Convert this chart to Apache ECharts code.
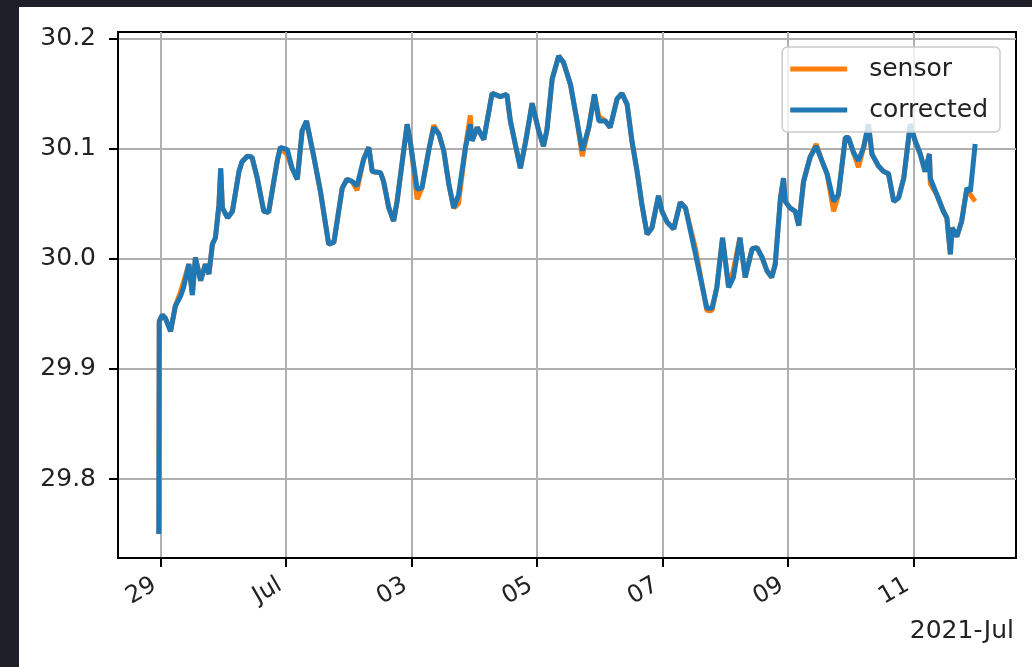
<!DOCTYPE html>
<html>
<head>
<meta charset="utf-8">
<script src="https://cdn.jsdelivr.net/npm/echarts@6/dist/echarts.min.js"></script>
<style>
  html, body { margin: 0; padding: 0; width: 1032px; height: 667px; background: #1e1f29; overflow: hidden; }
  #chart { position: absolute; left: 19px; top: 7px; width: 1013px; height: 660px; background: #ffffff; }
</style>
</head>
<body>
<div id="chart"></div>
<script>
const times = [
  '2021-06-28 23:20','2021-06-28 23:30',
  '2021-06-29 00:40','2021-06-29 01:50','2021-06-29 03:50','2021-06-29 05:40','2021-06-29 07:40','2021-06-29 08:50','2021-06-29 10:50','2021-06-29 12:10','2021-06-29 13:20','2021-06-29 15:20','2021-06-29 17:10','2021-06-29 18:30','2021-06-29 19:50','2021-06-29 21:00','2021-06-29 22:20','2021-06-29 23:00','2021-06-29 23:40',
  '2021-06-30 01:40','2021-06-30 03:30','2021-06-30 06:00','2021-06-30 07:10','2021-06-30 09:10','2021-06-30 11:00','2021-06-30 13:00','2021-06-30 15:30','2021-06-30 17:20','2021-06-30 20:40','2021-06-30 21:50',
  '2021-07-01 00:30','2021-07-01 02:20','2021-07-01 04:20','2021-07-01 06:10','2021-07-01 07:50','2021-07-01 10:40','2021-07-01 13:10','2021-07-01 16:20','2021-07-01 18:20','2021-07-01 21:30','2021-07-01 23:20',
  '2021-07-02 01:20','2021-07-02 03:10','2021-07-02 05:40','2021-07-02 07:40','2021-07-02 09:00','2021-07-02 12:10','2021-07-02 13:20','2021-07-02 15:20','2021-07-02 17:10','2021-07-02 18:30','2021-07-02 22:20','2021-07-02 23:40',
  '2021-07-03 02:10','2021-07-03 04:00','2021-07-03 06:40','2021-07-03 08:30','2021-07-03 10:30','2021-07-03 12:20','2021-07-03 14:20','2021-07-03 16:10','2021-07-03 18:00','2021-07-03 20:40','2021-07-03 22:30','2021-07-03 23:10',
  '2021-07-04 01:10','2021-07-04 03:40','2021-07-04 06:50','2021-07-04 10:00','2021-07-04 12:30','2021-07-04 13:50','2021-07-04 17:40','2021-07-04 19:30','2021-07-04 22:10',
  '2021-07-05 00:40','2021-07-05 02:30','2021-07-05 03:50','2021-07-05 05:50','2021-07-05 08:20','2021-07-05 10:10','2021-07-05 12:50','2021-07-05 15:20','2021-07-05 17:20','2021-07-05 19:50','2021-07-05 22:00','2021-07-05 23:40',
  '2021-07-06 02:10','2021-07-06 04:00','2021-07-06 06:40','2021-07-06 08:30','2021-07-06 10:30','2021-07-06 12:20','2021-07-06 14:20','2021-07-06 16:10','2021-07-06 18:10','2021-07-06 20:00','2021-07-06 22:30','2021-07-06 23:50',
  '2021-07-07 01:50','2021-07-07 04:20','2021-07-07 06:50','2021-07-07 08:50','2021-07-07 12:40','2021-07-07 17:00','2021-07-07 19:00','2021-07-07 20:50','2021-07-07 23:00',
  '2021-07-08 01:20','2021-07-08 03:10','2021-07-08 05:40','2021-07-08 07:40','2021-07-08 10:20','2021-07-08 12:10','2021-07-08 14:10','2021-07-08 16:00','2021-07-08 17:50','2021-07-08 19:10','2021-07-08 21:10','2021-07-08 22:20','2021-07-08 23:00',
  '2021-07-09 00:50','2021-07-09 02:50','2021-07-09 04:10','2021-07-09 06:00','2021-07-09 08:30','2021-07-09 10:50','2021-07-09 13:00','2021-07-09 15:00','2021-07-09 17:30','2021-07-09 19:20','2021-07-09 22:00','2021-07-09 23:10',
  '2021-07-10 01:10','2021-07-10 03:00','2021-07-10 05:00','2021-07-10 06:50','2021-07-10 08:10','2021-07-10 10:40','2021-07-10 12:40','2021-07-10 14:30','2021-07-10 16:30','2021-07-10 18:20','2021-07-10 20:20','2021-07-10 22:50',
  '2021-07-11 00:40','2021-07-11 02:40','2021-07-11 04:30','2021-07-11 06:10','2021-07-11 06:30','2021-07-11 09:00','2021-07-11 11:30','2021-07-11 12:50','2021-07-11 14:10','2021-07-11 14:50','2021-07-11 16:40','2021-07-11 18:30','2021-07-11 20:30','2021-07-11 21:50','2021-07-11 23:40'
];

const corrected = [
  29.750, 29.943,
  29.949, 29.946, 29.934, 29.957, 29.966, 29.974, 29.995, 29.967, 30.001, 29.980, 29.995, 29.986, 30.013, 30.019, 30.049, 30.082, 30.046,
  30.037, 30.043, 30.079, 30.088, 30.093, 30.092, 30.073, 30.043, 30.042, 30.089, 30.101,
  30.099, 30.082, 30.072, 30.116, 30.125, 30.092, 30.061, 30.013, 30.015, 30.064, 30.072,
  30.070, 30.066, 30.090, 30.101, 30.079, 30.078, 30.070, 30.046, 30.034, 30.052, 30.122, 30.104,
  30.063, 30.064, 30.099, 30.119, 30.113, 30.098, 30.067, 30.046, 30.058, 30.101, 30.122, 30.107,
  30.119, 30.108, 30.150, 30.147, 30.149, 30.125, 30.082, 30.104, 30.141,
  30.116, 30.102, 30.117, 30.163, 30.184, 30.178, 30.158, 30.125, 30.098, 30.119, 30.149, 30.125,
  30.125, 30.119, 30.145, 30.150, 30.140, 30.107, 30.079, 30.049, 30.022, 30.028, 30.057, 30.043,
  30.033, 30.027, 30.051, 30.046, 30.004, 29.955, 29.955, 29.974, 30.019,
  29.974, 29.983, 30.019, 29.983, 30.009, 30.010, 30.001, 29.989, 29.983, 29.995, 30.055, 30.073, 30.052,
  30.046, 30.043, 30.030, 30.070, 30.092, 30.102, 30.089, 30.077, 30.052, 30.058, 30.110, 30.110,
  30.096, 30.089, 30.101, 30.122, 30.095, 30.084, 30.079, 30.077, 30.052, 30.055, 30.073, 30.122,
  30.107, 30.095, 30.079, 30.095, 30.073, 30.058, 30.043, 30.037, 30.004, 30.028, 30.020, 30.034, 30.064, 30.061, 30.104
];

const sensor = [
  29.750, 29.943,
  29.949, 29.946, 29.934, 29.957, 29.970, 29.979, 29.995, 29.967, 30.001, 29.980, 29.995, 29.986, 30.013, 30.019, 30.049, 30.082, 30.046,
  30.037, 30.043, 30.079, 30.088, 30.093, 30.092, 30.073, 30.043, 30.042, 30.089, 30.101,
  30.094, 30.082, 30.072, 30.116, 30.125, 30.092, 30.061, 30.013, 30.015, 30.064, 30.072,
  30.070, 30.062, 30.090, 30.101, 30.079, 30.078, 30.070, 30.046, 30.034, 30.052, 30.122, 30.104,
  30.054, 30.064, 30.099, 30.121, 30.113, 30.098, 30.067, 30.046, 30.050, 30.101, 30.130, 30.107,
  30.119, 30.108, 30.150, 30.147, 30.149, 30.125, 30.082, 30.104, 30.141,
  30.116, 30.102, 30.117, 30.163, 30.184, 30.178, 30.158, 30.125, 30.093, 30.119, 30.149, 30.129,
  30.125, 30.119, 30.145, 30.150, 30.140, 30.107, 30.079, 30.049, 30.022, 30.028, 30.057, 30.043,
  30.033, 30.027, 30.051, 30.046, 30.009, 29.953, 29.953, 29.974, 30.019,
  29.974, 29.990, 30.019, 29.983, 30.009, 30.010, 30.001, 29.989, 29.983, 29.995, 30.055, 30.073, 30.052,
  30.046, 30.043, 30.030, 30.070, 30.092, 30.104, 30.089, 30.077, 30.043, 30.058, 30.110, 30.110,
  30.096, 30.083, 30.101, 30.122, 30.095, 30.084, 30.079, 30.077, 30.052, 30.055, 30.073, 30.122,
  30.107, 30.095, 30.079, 30.095, 30.068, 30.058, 30.043, 30.037, 30.004, 30.028, 30.020, 30.034, 30.064, 30.058, 30.052
];

const xTickDates = ['2021-06-29','2021-07-01','2021-07-03','2021-07-05','2021-07-07','2021-07-09','2021-07-11'];
const yTicks = [29.8, 29.9, 30.0, 30.1, 30.2];
const monthNames = ['Jan','Feb','Mar','Apr','May','Jun','Jul','Aug','Sep','Oct','Nov','Dec'];
const offsetLabel = '2021-Jul';

function toMs(s) {
  const parts = s.split(' ');
  const [Y, M, D] = parts[0].split('-').map(Number);
  const [h, m] = (parts[1] || '00:00').split(':').map(Number);
  return Date.UTC(Y, M - 1, D, h, m);
}

const tms = times.map(toMs);
const xTicks = xTickDates.map(toMs);
const sensorData = tms.map((t, i) => [t, sensor[i]]);
const correctedData = tms.map((t, i) => [t, corrected[i]]);

const allVals = sensor.concat(corrected);
const yLo = Math.min(...allVals), yHi = Math.max(...allVals);
const yPad = (yHi - yLo) * 0.05;
const xLo = Math.min(...tms), xHi = Math.max(...tms);
const xPad = (xHi - xLo) * 0.05;

const FONT = 'DejaVu Sans';
const chart = echarts.init(document.getElementById('chart'), null, { renderer: 'canvas' });
chart.setOption({
  animation: false,
  backgroundColor: '#ffffff',
  grid: { left: 99, top: 25, width: 898, height: 526, show: true, borderColor: '#000', borderWidth: 2, backgroundColor: 'transparent', containLabel: false },
  legend: {
    right: 32, top: 40, orient: 'vertical',
    icon: 'rect', itemWidth: 57, itemHeight: 5, itemGap: 13,
    padding: [8, 12, 8, 8],
    backgroundColor: 'rgba(255,255,255,0.8)', borderColor: '#cccccc', borderWidth: 1.5, borderRadius: 5,
    textStyle: { fontFamily: FONT, fontSize: 25, color: '#222', lineHeight: 28, padding: [0, 0, 0, 17] },
    data: ['sensor', 'corrected']
  },
  xAxis: {
    type: 'value', min: xLo - xPad, max: xHi + xPad,
    axisLine: { show: true, lineStyle: { color: '#000', width: 2 } },
    axisTick: { show: true, length: 9, lineStyle: { color: '#000', width: 2 }, customValues: xTicks },
    axisLabel: {
      customValues: xTicks, rotate: 30, margin: 22, fontFamily: FONT, fontSize: 24, color: '#222',
      padding: [0, 7, 0, 0],
      formatter: function (v) {
        const d = new Date(v);
        const day = d.getUTCDate();
        if (day === 1) return monthNames[d.getUTCMonth()];
        return (day < 10 ? '0' : '') + day;
      }
    },
    splitLine: { show: true, lineStyle: { color: '#b0b0b0', width: 2 } }
  },
  yAxis: {
    type: 'value', min: yLo - yPad, max: yHi + yPad,
    axisLine: { show: true, lineStyle: { color: '#000', width: 2 } },
    axisTick: { show: true, length: 9, lineStyle: { color: '#000', width: 2 }, customValues: yTicks },
    axisLabel: {
      customValues: yTicks, margin: 22, fontFamily: FONT, fontSize: 25, color: '#222',
      formatter: function (v) { return Number(v).toFixed(1); }
    },
    splitLine: { show: true, lineStyle: { color: '#b0b0b0', width: 2 } }
  },
  graphic: [{
    type: 'text', right: 18, top: 612,
    style: { text: offsetLabel, font: '25px "DejaVu Sans"', fill: '#222' }
  }],
  series: [
    { name: 'sensor', type: 'line', data: sensorData, showSymbol: false, color: '#ff7f0e',
      lineStyle: { width: 5, color: '#ff7f0e' } },
    { name: 'corrected', type: 'line', data: correctedData, showSymbol: false, color: '#1f77b4',
      lineStyle: { width: 5, color: '#1f77b4' } }
  ]
});
</script>
</body>
</html>
